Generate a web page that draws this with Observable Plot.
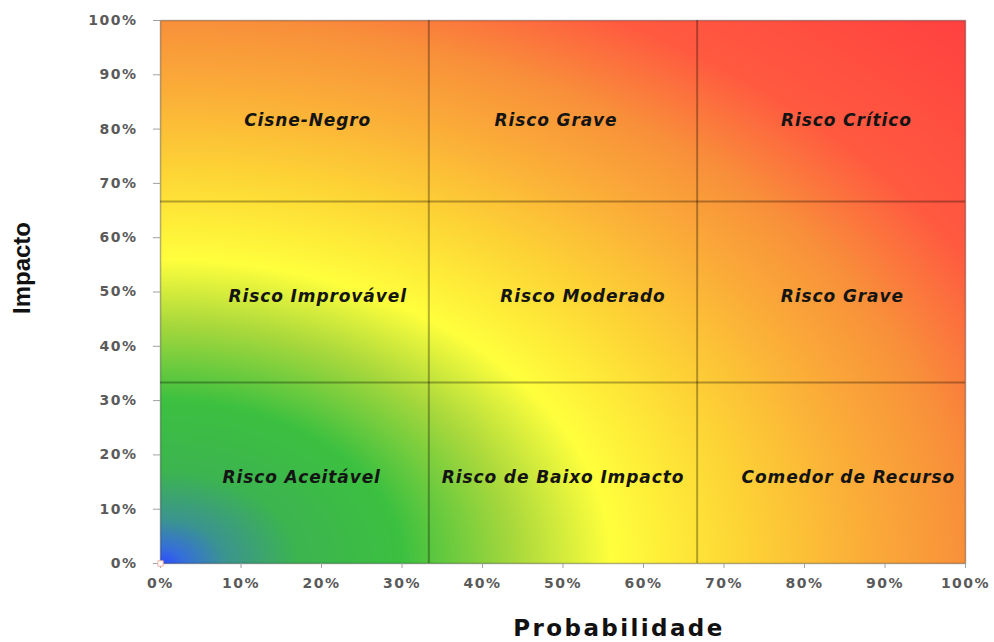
<!DOCTYPE html>
<html>
<head>
<meta charset="utf-8">
<script src="https://cdn.jsdelivr.net/npm/d3@7"></script>
<script src="https://cdn.jsdelivr.net/npm/@observablehq/plot@0.6"></script>
<style>
  body { margin: 0; background: #fff; }
  #chart svg { display: block; }
  #chart [aria-label="x-axis tick label"] text,
  #chart [aria-label="y-axis tick label"] text { letter-spacing: 1.5px; }
  #chart g[aria-description="rotulo"] text { letter-spacing: 0.9px; }
  #chart g[aria-description="titulo-x"] text { letter-spacing: 2.4px; }
</style>
</head>
<body>
<div id="chart"></div>
<script>
// Escala percentual dos dois eixos
const tickValues = [0, 0.1, 0.2, 0.3, 0.4, 0.5, 0.6, 0.7, 0.8, 0.9, 1];

// Limites das faixas de probabilidade e impacto (terços)
const limites = [1 / 3, 2 / 3];

// Rótulos das células, linha a linha de impacto baixo para alto
const rotulosBaixo = ["Risco Aceitável", "Risco de Baixo Impacto", "Comedor de Recurso"];
const rotulosMedio = ["Risco Improvável", "Risco Moderado", "Risco Grave"];
const rotulosAlto = ["Cisne-Negro", "Risco Grave", "Risco Crítico"];
const rotulos = [rotulosBaixo, rotulosMedio, rotulosAlto];

// Ponto de origem marcado no canto inferior esquerdo
const origem = [{probabilidade: 0, impacto: 0}];

// Paleta do degradê radial a partir da origem (distância -> cor)
const raioStops = [0, 0.03, 0.08, 0.17, 0.3, 0.44, 0.56, 0.72, 0.86, 1.0, 1.15, 1.42];
const coresStops = ["#2f4cff", "#3570d8", "#3b9490", "#3cb450", "#3cc040", "#a8d83c",
                    "#ffff3c", "#fdd535", "#fbb038", "#f8903a", "#ff5a40", "#ff4040"];

const pct = d3.format(".0%");

// Ajuste fino (px) de cada rótulo em relação ao centro da sua célula
const rotuloDx = [[7, 0, 17], [23, 20, 11], [13, -7, 15]];
const rotuloDy = [5, 5, 10];

const rotuloMarks = rotulos.flatMap((linha, r) =>
  linha.map((texto, c) =>
    Plot.text([texto], {
      x: () => (c + 0.5) / 3,
      y: () => (r + 0.5) / 3,
      text: d => d,
      dx: rotuloDx[r][c],
      dy: rotuloDy[r],
      fontFamily: "DejaVu Sans",
      fontStyle: "oblique",
      fontWeight: "bold",
      fontSize: 17,
      fill: "#141414",
      ariaDescription: "rotulo"
    })
  )
);

const chart = Plot.plot({
  width: 994,
  height: 642,
  marginLeft: 160,
  marginRight: 29,
  marginTop: 20,
  marginBottom: 79,
  style: {fontFamily: "DejaVu Sans", background: "#fff"},
  x: {domain: [0, 1], label: null},
  y: {domain: [0, 1], label: null},
  color: {type: "linear", domain: raioStops, range: coresStops, interpolate: "rgb", clamp: true},
  marks: [
    Plot.raster({
      x1: 0, x2: 1, y1: 0, y2: 1,
      fill: (x, y) => Math.hypot(x, y),
      pixelSize: 1
    }),
    Plot.ruleX(limites, {stroke: "#000", strokeOpacity: 0.3, strokeWidth: 2}),
    Plot.ruleY(limites, {stroke: "#000", strokeOpacity: 0.3, strokeWidth: 2}),
    Plot.frame({stroke: "#000", strokeOpacity: 0.3, strokeWidth: 1.5}),
    Plot.axisX({
      ticks: tickValues, tickFormat: pct, tickSize: 5, tickPadding: 10,
      stroke: "#a0a0a0", fill: "#5a5a5a", fontSize: 14, fontWeight: "bold", label: null
    }),
    Plot.axisY({
      ticks: tickValues, tickFormat: pct, tickSize: 7, tickPadding: 16,
      stroke: "#a0a0a0", fill: "#5a5a5a", fontSize: 14, fontWeight: "bold", label: null
    }),
    ...rotuloMarks,
    Plot.dot(origem, {
      x: "probabilidade", y: "impacto", symbol: "square", r: 3,
      fill: "#fff", stroke: "#f0b2a2", strokeWidth: 1, clip: false
    }),
    Plot.text(["Probabilidade"], {
      frameAnchor: "bottom", lineAnchor: "bottom", dx: 56, dy: 72,
      fontFamily: "DejaVu Sans", fontWeight: "bold", fontSize: 23, fill: "#111",
      ariaDescription: "titulo-x"
    }),
    Plot.text(["Impacto"], {
      frameAnchor: "left", textAnchor: "middle", rotate: -90, lineAnchor: "bottom",
      dx: -131, dy: -24,
      fontFamily: "Liberation Sans", fontWeight: "bold",
      fontSize: 24, fill: "#111"
    })
  ]
});

document.getElementById("chart").append(chart);
</script>
</body>
</html>
